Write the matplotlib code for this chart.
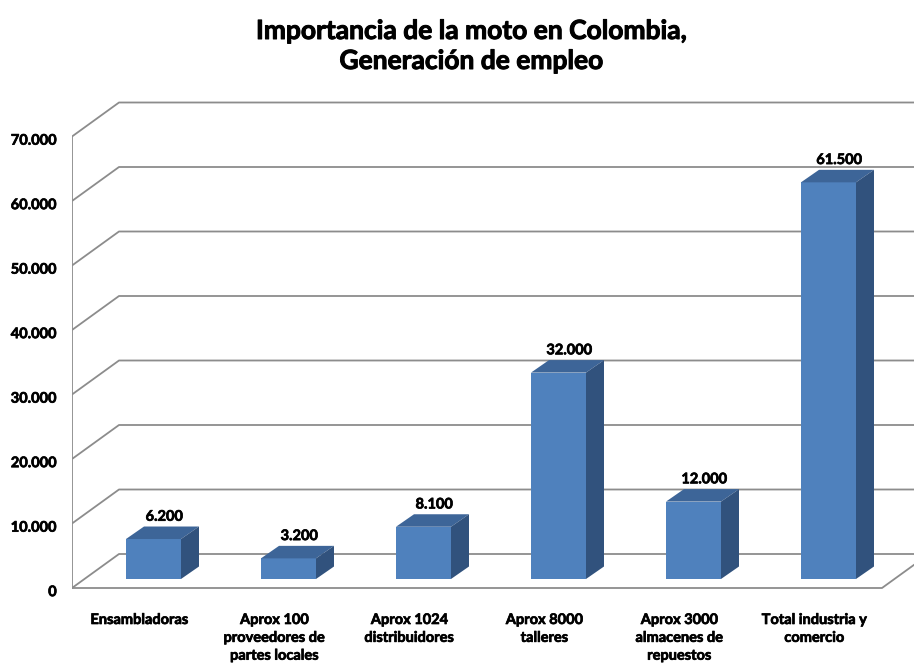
import matplotlib
matplotlib.use("Agg")
import matplotlib.pyplot as plt
from matplotlib.patches import Polygon
import matplotlib.patheffects as pe

categories = ["Ensambladoras", "Aprox 100\nproveedores de\npartes locales",
              "Aprox 1024\ndistribuidores", "Aprox 8000\ntalleres",
              "Aprox 3000\nalmacenes de\nrepuestos", "Total industria y\ncomercio"]
values = [6200, 3200, 8100, 32000, 12000, 61500]
value_labels = ["6.200", "3.200", "8.100", "32.000", "12.000", "61.500"]
yticks = [0, 10000, 20000, 30000, 40000, 50000, 60000, 70000]
ytick_labels = ["0", "10.000", "20.000", "30.000", "40.000", "50.000", "60.000", "70.000"]
title = "Importancia de la moto en Colombia,\nGeneración de empleo"

FONT = ["Lato", "DejaVu Sans"]
plt.rcParams['font.family'] = FONT
thick = [pe.withStroke(linewidth=0.5, foreground="black")]

W, H = 914, 665
fig = plt.figure(figsize=(W / 100, H / 100), dpi=100)

# pixel geometry of the oblique frame
x0_px = 72          # front axis x
y0_px = 588         # front zero line y
slot_px = 135.0     # category slot width
px_per_unit = 64.5 / 10000.0

ax_bottom_px, ax_top_px = 600, 90
ax = fig.add_axes([x0_px / W, (H - ax_bottom_px) / H, (W - x0_px) / W, (ax_bottom_px - ax_top_px) / H])
ax.set_xlim(0, (W - x0_px) / slot_px)
ax.set_ylim(-(ax_bottom_px - y0_px) / px_per_unit, (y0_px - ax_top_px) / px_per_unit)
ax.axis("off")

# depth offsets in data units
wdx, wdy = 47 / slot_px, 34 / px_per_unit      # wall depth
fdx, fdy = 14 / slot_px, 9 / px_per_unit       # bar front offset
ddx, ddy = 18 / slot_px, 12.5 / px_per_unit    # bar depth
bw = 55 / slot_px
n = len(categories)
xmax = (W - x0_px) / slot_px + 1

grid_c = "#8c8c8c"
lw = 1.3
for v in yticks:
    ax.plot([0, wdx, xmax], [v, v + wdy, v + wdy], color=grid_c, lw=lw, zorder=1, solid_capstyle="butt")
ax.plot([0, 0], [0, yticks[-1]], color=grid_c, lw=lw, zorder=1)
ax.plot([0, n, n + wdx], [0, 0, wdy], color=grid_c, lw=lw, zorder=1)

front_c = "#4F81BD"
top_c = "#3D6598"
side_c = "#31527D"
for i, v in enumerate(values):
    xl = i + 0.5 + fdx - bw / 2
    xr = xl + bw
    yb = fdy
    yt = fdy + v
    ax.add_patch(Polygon([(xl, yb), (xr, yb), (xr, yt), (xl, yt)], closed=True,
                         facecolor=front_c, edgecolor="none", zorder=3))
    ax.add_patch(Polygon([(xl, yt), (xr, yt), (xr + ddx, yt + ddy), (xl + ddx, yt + ddy)], closed=True,
                         facecolor=top_c, edgecolor="none", zorder=3))
    ax.add_patch(Polygon([(xr, yb), (xr + ddx, yb + ddy), (xr + ddx, yt + ddy), (xr, yt)], closed=True,
                         facecolor=side_c, edgecolor="none", zorder=3))
    ax.annotate(value_labels[i], xy=(i + 0.5 + fdx + ddx * 0.6, yt + ddy), xytext=(0, 2),
                textcoords="offset points", ha="center", va="bottom",
                fontsize=10.5, fontweight="bold", color="black", zorder=4, path_effects=thick)
    ax.annotate(categories[i], xy=(i + 0.5, 0), xytext=(0, -18), textcoords="offset points",
                ha="center", va="top", fontsize=10.5, fontweight="bold", color="black",
                linespacing=1.35, annotation_clip=False, path_effects=thick)

for v, lab in zip(yticks, ytick_labels):
    ax.annotate(lab, xy=(0, v), xytext=(-11, -3), textcoords="offset points",
                ha="right", va="center", fontsize=10.5, fontweight="bold", color="black",
                annotation_clip=False, path_effects=thick)

fig.text(471 / W, 1 - 46 / H, title, ha="center", va="center", fontsize=19,
         fontweight="bold", linespacing=1.3, path_effects=[pe.withStroke(linewidth=0.7, foreground="black")])

fig.savefig("out.png", dpi=100)
